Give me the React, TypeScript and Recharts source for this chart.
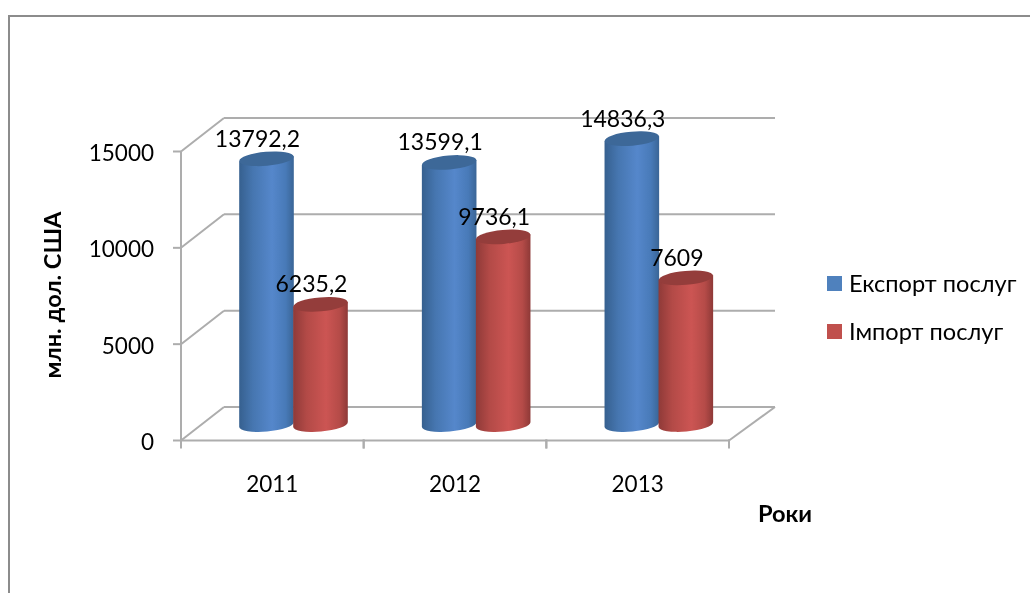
import { Bar, BarChart, CartesianGrid, Label, LabelList, Legend, XAxis, YAxis } from 'recharts'

const years = ['2011', '2012', '2013']
const exportValues = [13792.2, 13599.1, 14836.3]
const importValues = [6235.2, 9736.1, 7609]
const yTicks = [0, 5000, 10000, 15000]

const data = years.map((year, i) => ({ year, exportValue: exportValues[i], importValue: importValues[i] }))

const FONT = 'Lato, Carlito, sans-serif'
const GRID = '#adadad'
const DEPTH_X = 43
const DEPTH_Y = 33.5
const BAR_DX = 21.5
const BAR_DY = -16
const BAND = 182.67

const fmt = (v: number) => String(v).replace('.', ',')

function WallLine({ x1, y1, x2 }: any) {
  const backX1 = x1 + DEPTH_X
  const backX2 = x2 + DEPTH_X + 3
  const backY = y1 - DEPTH_Y
  const isFloor = y1 > 430
  return (
    <g stroke={GRID} strokeWidth={2} fill="none">
      <line x1={x1} y1={y1} x2={backX1} y2={backY} />
      <line x1={backX1} y1={backY} x2={backX2} y2={backY} />
      {isFloor && <line x1={x2} y1={y1} x2={backX2} y2={backY} />}
    </g>
  )
}

function Cylinder({ x, y, width, height, tone }: any) {
  const ry = 7
  const tilt = 2.4
  const cx = x + width / 2 + BAR_DX
  const rx = width / 2 + 0.3
  const top = y + BAR_DY
  const bottom = y + height + BAR_DY
  const left = cx - rx
  const right = cx + rx
  return (
    <g>
      <path
        d={`M${left},${top + tilt} L${left},${bottom + tilt} A${rx},${ry} -5 0 0 ${right},${bottom - tilt} L${right},${top - tilt} Z`}
        fill={`url(#body-${tone})`}
      />
      <ellipse
        cx={cx}
        cy={top}
        rx={rx}
        ry={ry}
        transform={`rotate(-5 ${cx} ${top})`}
        fill={tone === 'blue' ? '#3d6898' : '#943d3b'}
      />
    </g>
  )
}

function ValueLabel({ x, y, width, value }: any) {
  return (
    <text
      x={x + width / 2 + BAR_DX - 9}
      y={y + BAR_DY - 12}
      textAnchor="middle"
      fontFamily={FONT}
      fontSize={23}
      fill="#000"
    >
      {fmt(value)}
    </text>
  )
}

function YearTick({ x, y, payload }: any) {
  return (
    <g>
      <line x1={x - BAND / 2} y1={y - 9} x2={x - BAND / 2} y2={y} stroke={GRID} strokeWidth={2} />
      <line x1={x + BAND / 2} y1={y - 9} x2={x + BAND / 2} y2={y} stroke={GRID} strokeWidth={2} />
      <text x={x} y={y + 43} textAnchor="middle" fontFamily={FONT} fontSize={22.5} fill="#000">
        {payload.value}
      </text>
    </g>
  )
}

function LegendBox({ payload }: any) {
  return (
    <div style={{ position: 'absolute', left: 827, top: 259 }}>
      {(payload ?? []).map((item: any) => (
        <div
          key={item.value}
          style={{
            display: 'flex',
            alignItems: 'center',
            height: 48,
            width: 200,
            fontFamily: FONT,
            fontSize: 23.6,
            color: '#000',
          }}
        >
          <span style={{ width: 15, height: 15, marginRight: 7, background: item.color }} />
          {item.value}
        </div>
      ))}
    </div>
  )
}

export default function App() {
  return (
    <div style={{ position: 'absolute', left: 0, top: 0, width: 1030, height: 593, overflow: 'hidden', background: '#fff' }}>
      <div style={{ filter: 'blur(0.45px)' }}>
        <div
          style={{
            position: 'absolute',
            left: 8,
            top: 15,
            width: 1200,
            height: 800,
            border: '2px solid #8c8c8c',
          }}
        />
        <BarChart
          width={1030}
          height={593}
          data={data}
          barSize={54}
          barGap={0}
          margin={{ left: 121, right: 301, top: 151.5, bottom: 112.5 }}
        >
          <defs>
            <linearGradient id="body-blue" x1="0" y1="0" x2="1" y2="0">
              <stop offset="0%" stopColor="#36608f" />
              <stop offset="25%" stopColor="#4676b0" />
              <stop offset="60%" stopColor="#5587cb" />
              <stop offset="85%" stopColor="#487ab8" />
              <stop offset="100%" stopColor="#3a6596" />
            </linearGradient>
            <linearGradient id="body-red" x1="0" y1="0" x2="1" y2="0">
              <stop offset="0%" stopColor="#8f3a38" />
              <stop offset="25%" stopColor="#b34a47" />
              <stop offset="60%" stopColor="#cc5553" />
              <stop offset="85%" stopColor="#b54b48" />
              <stop offset="100%" stopColor="#8e3937" />
            </linearGradient>
          </defs>
          <CartesianGrid horizontal={(props: any) => <WallLine key={props.y1} {...props} />} vertical={false} />
          <XAxis
            dataKey="year"
            height={40}
            tick={<YearTick />}
            tickLine={false}
            axisLine={{ stroke: GRID, strokeWidth: 2 }}
          >
            <Label
              content={() => (
                <text x={785} y={522} textAnchor="middle" fontFamily={FONT} fontSize={23.6} fontWeight={700} fill="#000">
                  Роки
                </text>
              )}
            />
          </XAxis>
          <YAxis
            width={60}
            domain={[0, 15000]}
            ticks={yTicks}
            tickSize={8}
            tickMargin={19}
            interval={0}
            tick={{ fontFamily: FONT, fontSize: 22.5, fill: '#000', dy: 1.5 }}
            tickLine={{ stroke: GRID, strokeWidth: 2 }}
            axisLine={{ stroke: GRID, strokeWidth: 2 }}
          >
            <Label
              content={() => (
                <text
                  x={0}
                  y={0}
                  transform="translate(61 295) rotate(-90)"
                  textAnchor="middle"
                  fontFamily={FONT}
                  fontSize={23.6}
                  fontWeight={700}
                  fill="#000"
                >
                  млн. дол. США
                </text>
              )}
            />
          </YAxis>
          <Legend
            layout="vertical"
            itemSorter={null}
            wrapperStyle={{ left: 0, top: 0, right: 'auto', bottom: 'auto', width: 0, height: 0 }}
            content={<LegendBox />}
          />
          <Bar
            dataKey="exportValue"
            name="Експорт послуг"
            fill="#4f81bd"
            isAnimationActive={false}
            shape={(props: any) => <Cylinder {...props} tone="blue" />}
          >
            <LabelList dataKey="exportValue" content={<ValueLabel />} />
          </Bar>
          <Bar
            dataKey="importValue"
            name="Імпорт послуг"
            fill="#c0504d"
            isAnimationActive={false}
            shape={(props: any) => <Cylinder {...props} tone="red" />}
          >
            <LabelList dataKey="importValue" content={<ValueLabel />} />
          </Bar>
        </BarChart>
      </div>
    </div>
  )
}
